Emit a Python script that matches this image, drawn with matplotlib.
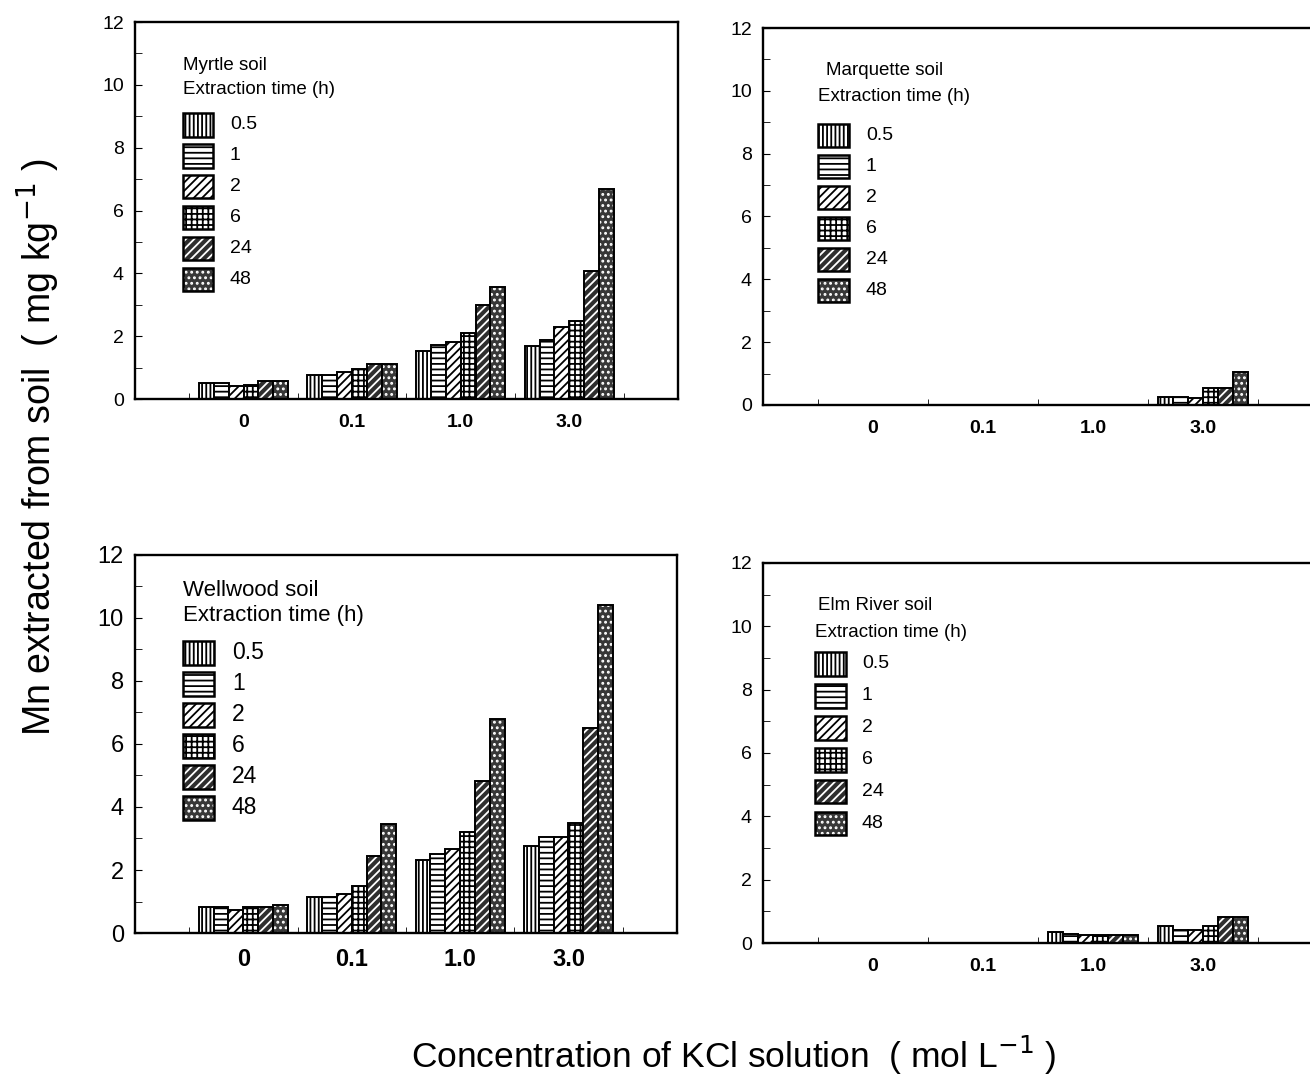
import numpy as np
import matplotlib
matplotlib.use('Agg')
import matplotlib.pyplot as plt
from matplotlib.patches import Rectangle

plt.rcParams['font.family'] = ['Liberation Sans', 'DejaVu Sans']
plt.rcParams['hatch.linewidth'] = 1.3

# KCl concentration groups and extraction times
conc_labels = ['0', '0.1', '1.0', '3.0']
times = ['0.5', '1', '2', '6', '24', '48']
hatches = ['||||', '---', '////', '+++', '////', '...']
# the two longest times are printed dark with a light pattern
faces = ['white', 'white', 'white', 'white', '#2e2e2e', '#383838']
hcols = ['black', 'black', 'black', 'black', 'white', 'white']

# Mn extracted (mg/kg): rows = extraction time, cols = KCl concentration
myrtle = [[0.50, 0.78, 1.54, 1.69],
          [0.50, 0.78, 1.72, 1.88],
          [0.40, 0.86, 1.80, 2.28],
          [0.45, 0.95, 2.11, 2.48],
          [0.57, 1.13, 3.00, 4.09],
          [0.57, 1.13, 3.58, 6.68]]
marquette = [[0, 0, 0, 0.25],
             [0, 0, 0, 0.25],
             [0, 0, 0, 0.22],
             [0, 0, 0, 0.55],
             [0, 0, 0, 0.55],
             [0, 0, 0, 1.04]]
wellwood = [[0.82, 1.15, 2.32, 2.77],
            [0.82, 1.15, 2.50, 3.06],
            [0.74, 1.25, 2.68, 3.06],
            [0.82, 1.50, 3.20, 3.50],
            [0.82, 2.45, 4.82, 6.52],
            [0.90, 3.45, 6.78, 10.40]]
elm_river = [[0, 0, 0.35, 0.55],
             [0, 0, 0.28, 0.42],
             [0, 0, 0.26, 0.40],
             [0, 0, 0.26, 0.55],
             [0, 0, 0.26, 0.82],
             [0, 0, 0.26, 0.82]]


def draw_panel(ax, data, title, key, fs_xt, fs_yt, fs_key):
    x = np.arange(len(conc_labels))
    w = 0.137
    for i, t in enumerate(times):
        xs = x + (i - 2.5) * w
        # pattern first, then a black outline on top
        ax.bar(xs, data[i], width=w, facecolor=faces[i], edgecolor=hcols[i],
               linewidth=0, hatch=hatches[i])
        ax.bar(xs, data[i], width=w, fill=False, edgecolor='black', linewidth=1.4)
    ax.set_xlim(-1, 4)
    ax.set_ylim(0, 12)
    ax.set_yticks(range(0, 13, 2))
    ax.set_yticks(range(0, 13), minor=True)
    ax.set_xticks(x)
    ax.set_xticklabels(conc_labels, fontweight='bold')
    ax.set_xticks(np.arange(-0.5, 4, 1), minor=True)
    ax.tick_params(axis='x', which='major', length=0, pad=11, labelsize=fs_xt)
    ax.tick_params(axis='x', which='minor', direction='in', length=4)
    ax.tick_params(axis='y', which='both', direction='in', length=5,
                   labelsize=fs_yt, pad=8)
    for s in ax.spines.values():
        s.set_linewidth(1.7)

    # hand drawn key like in the original figure
    tx, ty1, ty2, px, py0, step, lx = key
    ax.text(tx, ty1, title, transform=ax.transAxes, fontsize=fs_key, va='center')
    ax.text(px, ty2, 'Extraction time (h)', transform=ax.transAxes,
            fontsize=fs_key, va='center')
    for i, t in enumerate(times):
        yy = py0 - i * step
        ax.add_patch(Rectangle((px, yy - 0.031), 0.056, 0.062, transform=ax.transAxes,
                               facecolor=faces[i], edgecolor=hcols[i], linewidth=0,
                               hatch=hatches[i], clip_on=False))
        ax.add_patch(Rectangle((px, yy - 0.031), 0.056, 0.062, transform=ax.transAxes,
                               fill=False, edgecolor='black', linewidth=1.8,
                               clip_on=False))
        ax.text(lx, yy, t, transform=ax.transAxes, fontsize=fs_key + 0.5, va='center')


fig = plt.figure(figsize=(13.1, 10.77), dpi=100)

ax1 = fig.add_axes([0.103, 0.6295, 0.4145, 0.350])
ax2 = fig.add_axes([0.5824, 0.624, 0.42, 0.350])
ax3 = fig.add_axes([0.103, 0.1337, 0.4137, 0.351])
ax4 = fig.add_axes([0.5824, 0.1244, 0.42, 0.353])

draw_panel(ax1, myrtle, 'Myrtle soil',
           (0.088, 0.886, 0.82, 0.088, 0.727, 0.082, 0.175), 14, 14, 13.5)
draw_panel(ax2, marquette, 'Marquette soil',
           (0.115, 0.886, 0.817, 0.100, 0.714, 0.082, 0.187), 14, 14, 13.5)
draw_panel(ax3, wellwood, 'Wellwood soil',
           (0.089, 0.907, 0.839, 0.089, 0.741, 0.082, 0.179), 17, 17, 16)
draw_panel(ax4, elm_river, 'Elm River soil',
           (0.100, 0.887, 0.816, 0.095, 0.734, 0.084, 0.180), 14, 14, 13.5)

fig.text(0.029, 0.585, 'Mn extracted from soil  ( mg kg$^{-1}$ )', rotation=90,
         ha='center', va='center', fontsize=27)
fig.text(0.56, 0.02, 'Concentration of KCl solution  ( mol L$^{-1}$ )',
         ha='center', va='center', fontsize=25.5)

fig.savefig('out.png', dpi=100)
